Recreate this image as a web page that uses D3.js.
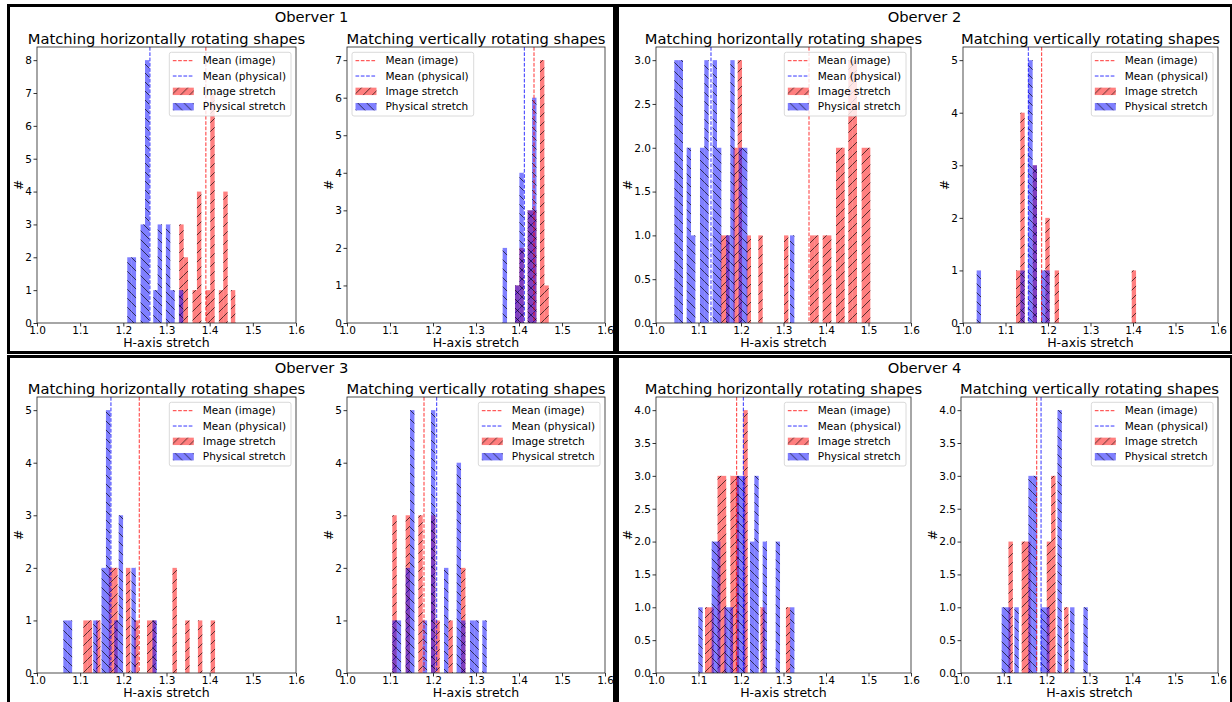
<!doctype html>
<html>
<head>
<meta charset="utf-8">
<title>Oberver stretch histograms</title>
<style>
  body { margin: 0; background: #fff; }
  svg { display: block; font-family: 'DejaVu Sans', sans-serif; }
</style>
</head>
<body>
<svg width="1232" height="702"></svg>
<script src="https://cdnjs.cloudflare.com/ajax/libs/d3/7.8.5/d3.min.js"></script>
<script>
// Titles and axis text
var observers = ['Oberver 1', 'Oberver 2', 'Oberver 3', 'Oberver 4'];
var subTitles = ['Matching horizontally rotating shapes', 'Matching vertically rotating shapes'];
var legendLabels = ['Mean (image)', 'Mean (physical)', 'Image stretch', 'Physical stretch'];
var xTicks = [1.0, 1.1, 1.2, 1.3, 1.4, 1.5, 1.6];

// One entry per panel: obs1 horiz, obs1 vert, obs2 horiz, obs2 vert, ...
var yMax = [8.4, 7.35, 3.15, 5.25, 5.25, 5.25, 4.2, 4.2];
var yStep = [1, 1, 0.5, 1, 1, 1, 0.5, 0.5];
var meanImage = [1.3912, 1.4349, 1.3600, 1.1851, 1.2369, 1.1791, 1.1898, 1.1768];
var meanPhysical = [1.2616, 1.4124, 1.1294, 1.1537, 1.1713, 1.2086, 1.2055, 1.1869];

// Histogram bins (left edge of each bin) and counts of the two side-by-side bars
var imgBins = [
  [1.3295, 1.3603, 1.3912, 1.4213, 1.4491],
  [1.3907, 1.4202, 1.4488],
  [1.1522, 1.1820, 1.2133, 1.2408, 1.3012, 1.3624, 1.3922, 1.4235, 1.4525, 1.4839],
  [1.1247, 1.1537, 1.1835, 1.2157, 1.3970],
  [1.1073, 1.1368, 1.1663, 1.1958, 1.2253, 1.2548, 1.3138, 1.3433, 1.3728, 1.4023],
  [1.1054, 1.1364, 1.1659, 1.1953, 1.2256, 1.2550],
  [1.1153, 1.1448, 1.1750, 1.2055, 1.2355, 1.2955],
  [1.1006, 1.1417, 1.2002, 1.2306]
];
var imgCountA = [
  [3, 1, 1, 1, 1],
  [1, 3, 7],
  [1, 2, 1, 1, 1, 1, 1, 2, 3, 2],
  [1, 0, 0, 1, 1],
  [1, 1, 2, 0, 1, 1, 2, 1, 1, 1],
  [3, 3, 3, 3, 0, 0],
  [1, 3, 3, 4, 0, 0],
  [0, 2, 2, 0]
];
var imgCountB = [
  [2, 4, 7, 4, 0],
  [2, 3, 1],
  [1, 3, 0, 0, 0, 1, 1, 2, 3, 2],
  [4, 3, 2, 0, 0],
  [1, 0, 2, 2, 0, 1, 0, 0, 0, 0],
  [0, 0, 0, 1, 1, 2],
  [1, 3, 3, 0, 1, 1],
  [2, 2, 3, 1]
];
var physBins = [
  [1.2091, 1.2400, 1.2693, 1.2986, 1.3287],
  [1.3620, 1.3907, 1.4202],
  [1.0431, 1.0722, 1.1035, 1.1333, 1.1647, 1.1945, 1.3153],
  [1.0322, 1.1247, 1.1537, 1.1835],
  [1.0610, 1.1200, 1.1495, 1.1790, 1.2085, 1.2675],
  [1.1054, 1.1364, 1.1659, 1.1953, 1.2256, 1.2550, 1.2860, 1.3147],
  [1.0996, 1.1310, 1.1608, 1.1898, 1.2212, 1.2510, 1.2816, 1.3053],
  [1.0950, 1.1247, 1.1573, 1.1861, 1.2150, 1.2445, 1.2756]
];
var physCountA = [
  [2, 3, 1, 3, 1],
  [2, 1, 3],
  [3, 2, 2, 3, 1, 2, 1],
  [1, 0, 5, 1],
  [1, 0, 2, 1, 0, 1],
  [1, 2, 0, 5, 2, 4, 1, 1],
  [1, 2, 1, 3, 2, 2, 2, 0],
  [1, 1, 3, 1, 0, 0, 0]
];
var physCountB = [
  [2, 8, 3, 1, 0],
  [0, 4, 6],
  [3, 1, 3, 2, 3, 2, 0],
  [0, 1, 3, 1],
  [1, 1, 5, 3, 2, 0],
  [1, 5, 1, 0, 0, 1, 1, 0],
  [0, 2, 1, 3, 3, 0, 0, 1],
  [1, 0, 3, 1, 4, 1, 1]
];

var SUB_W = 0.0102;   // width of one of the paired bars, data units
var RED = '#ff0000', BLUE = '#0000ff';

// Layout: observer boxes and axes rectangles [left, right, top, bottom]
var boxes = [[8.5, 5.5, 606, 347], [617.5, 5.5, 614, 347], [8.5, 356.5, 606, 348], [617.5, 356.5, 614, 348]];
var axesRect = [
  [37, 296, 47, 323], [347, 605, 47, 323],
  [656, 911, 47, 323], [963, 1218, 47, 323],
  [37, 296, 397, 673], [347, 605, 397, 673],
  [656, 911, 397, 673], [961, 1218, 397, 673]
];
var legendLeft = [false, true, false, false, false, false, false, false];

var svg = d3.select('svg');
var defs = svg.append('defs');

function hatch(id, d) {
  defs.append('pattern')
    .attr('id', id)
    .attr('patternUnits', 'userSpaceOnUse')
    .attr('width', 9).attr('height', 9)
    .append('path')
    .attr('d', d)
    .attr('stroke', '#000')
    .attr('stroke-width', 1)
    .attr('fill', 'none');
}
hatch('fwd', 'M-1,1L1,-1M0,9L9,0M8,10L10,8');
hatch('back', 'M-1,8L1,10M0,0L9,9M8,-1L10,1');

// observer boxes and titles
boxes.forEach(function(b, o) {
  svg.append('rect')
    .attr('x', b[0]).attr('y', b[1])
    .attr('width', b[2]).attr('height', b[3])
    .attr('fill', 'none')
    .attr('stroke', '#000')
    .attr('stroke-width', 3);
  svg.append('text')
    .attr('x', b[0] + b[2] / 2)
    .attr('y', b[1] + 16.5)
    .attr('text-anchor', 'middle')
    .attr('font-size', 14.7)
    .text(observers[o]);
});

function drawSeries(g, x, y, bins, ca, cb, color, hatchId) {
  var bars = [];
  bins.forEach(function(left, j) {
    [ca[j], cb[j]].forEach(function(n, k) {
      if (n > 0) bars.push({x0: left + k * SUB_W, x1: left + (k + 1) * SUB_W, n: n});
    });
  });
  var bg = g.selectAll(null).data(bars).enter().append('g');
  bg.append('rect')
    .attr('x', function(d) { return x(d.x0); })
    .attr('width', function(d) { return x(d.x1) - x(d.x0); })
    .attr('y', function(d) { return y(d.n); })
    .attr('height', function(d) { return y(0) - y(d.n); })
    .attr('fill', color)
    .attr('fill-opacity', 0.5);
  bg.append('rect')
    .attr('x', function(d) { return x(d.x0); })
    .attr('width', function(d) { return x(d.x1) - x(d.x0); })
    .attr('y', function(d) { return y(d.n); })
    .attr('height', function(d) { return y(0) - y(d.n); })
    .attr('fill', 'url(#' + hatchId + ')')
    .attr('opacity', 0.65);
}

axesRect.forEach(function(r, i) {
  var L = r[0], R = r[1], T = r[2], B = r[3];
  var g = svg.append('g');
  var x = d3.scaleLinear().domain([1.0, 1.6]).range([L, R]);
  var y = d3.scaleLinear().domain([0, yMax[i]]).range([B, T]);

  // subplot title
  g.append('text')
    .attr('x', (L + R) / 2)
    .attr('y', T - 3)
    .attr('text-anchor', 'middle')
    .attr('font-size', 14.7)
    .text(subTitles[i % 2]);

  drawSeries(g, x, y, imgBins[i], imgCountA[i], imgCountB[i], RED, 'fwd');
  drawSeries(g, x, y, physBins[i], physCountA[i], physCountB[i], BLUE, 'back');

  // mean lines
  [[meanImage[i], RED], [meanPhysical[i], BLUE]].forEach(function(m) {
    g.append('line')
      .attr('x1', x(m[0])).attr('x2', x(m[0]))
      .attr('y1', T).attr('y2', B)
      .attr('stroke', m[1])
      .attr('stroke-width', 1)
      .attr('stroke-opacity', 0.8)
      .attr('stroke-dasharray', '3.7,1.6');
  });

  // axes
  var yTicks = d3.range(0, yMax[i] / 1.05 + 1e-6, yStep[i]);
  var fmt = yStep[i] < 1 ? d3.format('.1f') : d3.format('d');
  var xa = g.append('g')
    .attr('transform', 'translate(0,' + B + ')')
    .call(d3.axisBottom(x).tickValues(xTicks).tickFormat(d3.format('.1f'))
      .tickSize(3.5).tickSizeOuter(0).tickPadding(0.5));
  var ya = g.append('g')
    .attr('transform', 'translate(' + L + ',0)')
    .call(d3.axisLeft(y).tickValues(yTicks).tickFormat(fmt)
      .tickSize(3.5).tickSizeOuter(0).tickPadding(1.5));
  [xa, ya].forEach(function(a) {
    a.attr('font-family', null).attr('font-size', 10.5);
    a.selectAll('text').attr('fill', '#000');
    a.selectAll('line').attr('stroke', '#000').attr('stroke-width', 0.8);
    a.select('.domain').remove();
  });
  g.append('rect')
    .attr('x', L).attr('y', T)
    .attr('width', R - L).attr('height', B - T)
    .attr('fill', 'none')
    .attr('stroke', '#222')
    .attr('stroke-width', 0.8);

  // axis labels
  g.append('text')
    .attr('x', (L + R) / 2)
    .attr('y', B + 23.5)
    .attr('text-anchor', 'middle')
    .attr('font-size', 12.5)
    .text('H-axis stretch');
  var yLabelX = ya.node().getBBox().x + L - 2.5;
  g.append('text')
    .attr('transform', 'translate(' + yLabelX + ',' + (T + B) / 2 + ') rotate(-90)')
    .attr('text-anchor', 'middle')
    .attr('font-size', 12.5)
    .text('#');

  // legend
  var lg = g.append('g');
  var frame = lg.append('rect');
  var maxW = 0;
  legendLabels.forEach(function(lab, k) {
    var cy = 8.4 + k * 15.33;
    var t = lg.append('text')
      .attr('x', 33.5)
      .attr('y', cy + 3.8)
      .attr('font-size', 10.5)
      .text(lab);
    maxW = Math.max(maxW, t.node().getComputedTextLength());
    if (k < 2) {
      lg.append('line')
        .attr('x1', 3.5).attr('x2', 24.5)
        .attr('y1', cy).attr('y2', cy)
        .attr('stroke', k === 0 ? RED : BLUE)
        .attr('stroke-opacity', 0.8)
        .attr('stroke-width', 1)
        .attr('stroke-dasharray', '3.7,1.6');
    } else {
      lg.append('rect').attr('x', 3.5).attr('y', cy - 3.7).attr('width', 21).attr('height', 7.4)
        .attr('fill', k === 2 ? RED : BLUE).attr('fill-opacity', 0.5);
      lg.append('rect').attr('x', 3.5).attr('y', cy - 3.7).attr('width', 21).attr('height', 7.4)
        .attr('fill', 'url(#' + (k === 2 ? 'fwd' : 'back') + ')').attr('opacity', 0.65);
    }
  });
  var lw = 33.5 + maxW + 5;
  frame.attr('x', 0).attr('y', 0)
    .attr('width', lw).attr('height', 63.7)
    .attr('rx', 2)
    .attr('fill', '#fff').attr('fill-opacity', 0.8)
    .attr('stroke', '#d0d0d0').attr('stroke-width', 0.8);
  var lx = legendLeft[i] ? L + 5 : R - 5 - lw;
  lg.attr('transform', 'translate(' + lx + ',' + (T + 5.3) + ')');
});
</script>
</body>
</html>
